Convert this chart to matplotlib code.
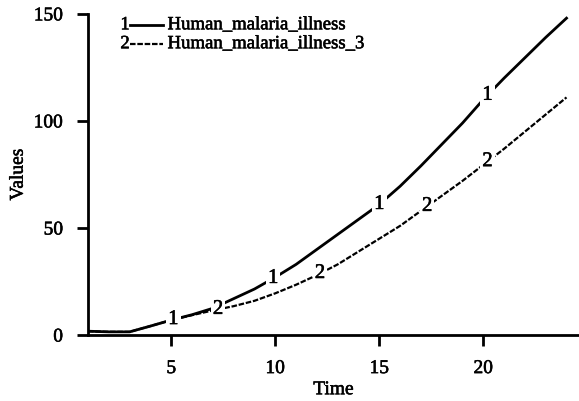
import numpy as np
import matplotlib
matplotlib.use('Agg')
import matplotlib.pyplot as plt
import matplotlib.patheffects as pe

plt.rcParams['font.family'] = 'Liberation Serif'

# dados
time = list(range(1, 25))
illness = [1.8, 1.5, 1.5, 4.2, 7, 9.5, 12.5, 17, 21.5, 27, 33, 40, 47, 54, 61,
           69.5, 79, 89, 99, 110, 120, 129.5, 139, 148]
illness_3 = [1.8, 1.5, 1.5, 4.2, 7, 9.3, 11.5, 13.5, 16, 19.5, 23.5, 28, 33, 39, 45,
             51, 58, 65, 72, 79.5, 87, 95, 103, 111]
names = ['Human_malaria_illness', 'Human_malaria_illness_3']
marks1 = [5.1, 9.9, 15.0, 20.2]
marks2 = [7.25, 12.15, 17.3, 20.2]

# deixa o texto mais escuro, como no original
grosso = [pe.withStroke(linewidth=0.4, foreground='black')]

fig = plt.figure(figsize=(5.79, 4.02), dpi=100)
ax = fig.add_axes([0.152, 0.164, 0.848, 0.799])

dash = (0, (2.5, 0.8))
ax.plot(time, illness, color='black', lw=2.0, ls='-')
ax.plot(time, illness_3, color='black', lw=1.6, ls=dash)

# numeros sobre as curvas
for t in marks1:
    ax.text(t, np.interp(t, time, illness), '1', ha='center', va='center', fontsize=15,
            path_effects=grosso, bbox=dict(facecolor='white', edgecolor='none', pad=1.5))
for t in marks2:
    ax.text(t, np.interp(t, time, illness_3), '2', ha='center', va='center', fontsize=15,
            path_effects=grosso, bbox=dict(facecolor='white', edgecolor='none', pad=1.5))

# legenda feita a mao
for i, (nm, ls, lw) in enumerate(zip(names, ['-', dash], [2.0, 1.6])):
    yy = 0.966 - i * 0.059
    ax.text(0.085, yy, str(i + 1), transform=ax.transAxes, ha='right', va='center',
            fontsize=13.5, path_effects=grosso)
    ax.plot([0.086, 0.153], [yy, yy], transform=ax.transAxes, color='black', lw=lw, ls=ls,
            clip_on=False)
    ax.text(0.162, yy, nm, transform=ax.transAxes, ha='left', va='center',
            fontsize=13.5, path_effects=grosso)

ax.set_xlim(1, 24.6)
ax.set_ylim(0, 150)
ax.set_xticks([5, 10, 15, 20])
ax.set_yticks([0, 50, 100, 150])
ax.spines['top'].set_visible(False)
ax.spines['right'].set_visible(False)
ax.spines['left'].set_linewidth(2)
ax.spines['bottom'].set_linewidth(2)
ax.tick_params(direction='out', length=8, width=2, labelsize=14, pad=10)
for lb in ax.get_xticklabels() + ax.get_yticklabels():
    lb.set_path_effects(grosso)
ax.set_xlabel('Time', fontsize=14, labelpad=3, path_effects=grosso)
ax.set_ylabel('Values', fontsize=14, labelpad=5, path_effects=grosso)

plt.savefig('out.png', dpi=100)
